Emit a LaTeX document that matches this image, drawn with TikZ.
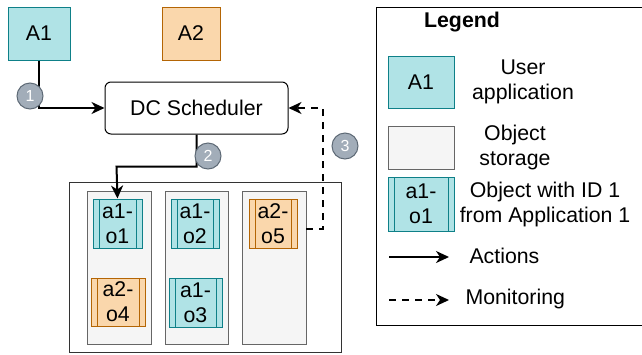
\documentclass[tikz,border=0pt]{standalone}
\usepackage{fontspec}
\setmainfont{Liberation Sans}
\usetikzlibrary{arrows.meta}
\definecolor{appfill}{HTML}{B0E3E6}
\definecolor{appline}{HTML}{0E8088}
\definecolor{orgfill}{HTML}{FAD7AC}
\definecolor{orgline}{HTML}{B46504}
\definecolor{storfill}{HTML}{F5F5F5}
\definecolor{storline}{HTML}{666666}
\definecolor{badgefill}{HTML}{A2ADB9}
\definecolor{badgeline}{HTML}{5E6A76}
\tikzset{
  txt/.style={font=\fontsize{21.3}{25}\selectfont, align=center, text=black},
  appbox/.style={draw=appline, fill=appfill, line width=1pt, minimum width=62pt, minimum height=53pt, txt},
  orgbox/.style={draw=orgline, fill=orgfill, line width=1pt, minimum width=58pt, minimum height=53pt, txt},
  storage/.style={draw=storline, fill=storfill, line width=1pt},
  outer/.style={draw=black!80, line width=1pt},
  objbase/.style={line width=1pt, inner sep=0pt, txt,
    path picture={\draw[line width=1pt, draw=#1]
      ([xshift=6pt]path picture bounding box.north west) -- ([xshift=6pt]path picture bounding box.south west)
      ([xshift=-6pt]path picture bounding box.north east) -- ([xshift=-6pt]path picture bounding box.south east);}},
  objA/.style={objbase=appline, draw=appline, fill=appfill},
  objB/.style={objbase=orgline, draw=orgline, fill=orgfill},
  sched/.style={draw=black, rounded corners=6pt, line width=1pt, minimum width=183pt, minimum height=52pt, txt},
  badge/.style={circle, draw=badgeline, fill=badgefill, line width=1pt, minimum size=26pt, inner sep=0pt,
    text=white, font=\fontsize{16}{16}\selectfont},
  act/.style={line width=2pt, -{Stealth[length=13pt,width=12pt,inset=4pt]}},
  mon/.style={line width=2pt, dash pattern=on 7pt off 6pt, -{Stealth[length=13pt,width=12pt,inset=4pt]}},
}
\begin{document}
\begin{tikzpicture}[x=1pt, y=-1pt]
\useasboundingbox (0,0) rectangle (642,354);

% applications
\node[appbox] (A1) at (39,33.5) {A1};
\node[orgbox] (A2) at (191,33.5) {A2};

% scheduler
\node[sched] (S) at (196.5,108) {DC Scheduler};

% data center with three storage columns
\draw[outer] (69,182) rectangle (341,352);
\path[storage] (87,191) rectangle (151,344);
\path[storage] (165,191) rectangle (228,344);
\path[storage] (242,191) rectangle (306,344);
\coordinate (C3) at (306,229);

% stored objects
\node[objA, minimum width=49pt, minimum height=49pt] (o1) at (117.5,223.5) {a1-\\o1};
\node[objB, minimum width=54pt, minimum height=48pt] (o4) at (118,302) {a2-\\o4};
\node[objA, minimum width=48pt, minimum height=49pt] (o2) at (195,223.5) {a1-\\o2};
\node[objA, minimum width=53pt, minimum height=49pt] (o3) at (195.5,302.5) {a1-\\o3};
\node[objB, minimum width=48pt, minimum height=49pt] (o5) at (273,223.5) {a2-\\o5};

% connectors
\draw[act] (A1.south) |- (S.west);
\draw[act] (S.south) |- ++(-80,32) -- (o1.north);
\coordinate (m1) at (323,229);
\draw[mon] (C3) -- (m1) |- (S.east);

% step badges
\node[badge] (b1) at (30,96) {1};
\node[badge] (b2) at (208,156) {2};
\node[badge] (b3) at (345,146) {3};

% legend
\draw[black, line width=1pt] (646,7) -- (376,7) -- (376,325) -- (646,325);
\node[txt, font=\fontsize{21.3}{25}\selectfont\bfseries] (lt) at (462,22) {Legend};
\node[appbox, minimum width=66pt, minimum height=52pt] (la) at (421,82) {A1};
\node[txt] (lat) at (523,82) {User\\application};
\node[storage, minimum width=66pt, minimum height=43pt] (ls) at (421,147.5) {};
\node[txt] (lst) at (515,147) {Object\\storage};
\node[objA, minimum width=66pt, minimum height=54pt] (lo) at (421,204) {a1-\\o1};
\node[txt] (lot) at (545,204) {Object with ID 1\\from Application 1};
\coordinate (la1) at (389,257);
\coordinate (la2) at (449,257);
\draw[act] (la1) -- (la2);
\node[txt, anchor=west] (lact) at (466,256) {Actions};
\coordinate (lm1) at (389,300);
\coordinate (lm2) at (449,300);
\draw[mon] (lm1) -- (lm2);
\node[txt, anchor=west] (lmon) at (462,299) {Monitoring};
\end{tikzpicture}
\end{document}
